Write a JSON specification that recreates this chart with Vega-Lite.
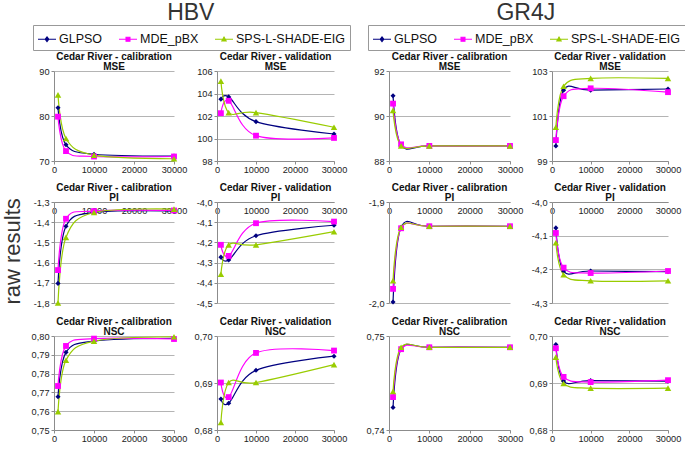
{
"$schema":"https://vega.github.io/schema/vega-lite/v6.json",
"padding":{"left":2,"top":1,"right":1,"bottom":2},
"background":"white",
"title":{"text":"raw results","orient":"left","anchor":"middle","frame":"bounds","fontSize":22,"fontWeight":"normal","font":"Liberation Sans","color":"#333","offset":6,"dx":-29},
"data":{"values":[
{"m":"HBV","p":"cal-MSE","a":"GLPSO","i":1000,"v":81.85},{"m":"HBV","p":"cal-MSE","a":"GLPSO","i":3000,"v":73.6},{"m":"HBV","p":"cal-MSE","a":"GLPSO","i":10000,"v":71.5},{"m":"HBV","p":"cal-MSE","a":"GLPSO","i":30000,"v":71.1},
{"m":"HBV","p":"cal-MSE","a":"MDE_pBX","i":1000,"v":79.85},{"m":"HBV","p":"cal-MSE","a":"MDE_pBX","i":3000,"v":72.2},{"m":"HBV","p":"cal-MSE","a":"MDE_pBX","i":10000,"v":71.0},{"m":"HBV","p":"cal-MSE","a":"MDE_pBX","i":30000,"v":71.0},
{"m":"HBV","p":"cal-MSE","a":"SPS-L-SHADE-EIG","i":1000,"v":84.7},{"m":"HBV","p":"cal-MSE","a":"SPS-L-SHADE-EIG","i":3000,"v":75.0},{"m":"HBV","p":"cal-MSE","a":"SPS-L-SHADE-EIG","i":10000,"v":71.3},{"m":"HBV","p":"cal-MSE","a":"SPS-L-SHADE-EIG","i":30000,"v":70.5},
{"m":"HBV","p":"val-MSE","a":"GLPSO","i":1000,"v":103.5},{"m":"HBV","p":"val-MSE","a":"GLPSO","i":3000,"v":103.7},{"m":"HBV","p":"val-MSE","a":"GLPSO","i":10000,"v":101.5},{"m":"HBV","p":"val-MSE","a":"GLPSO","i":30000,"v":100.4},
{"m":"HBV","p":"val-MSE","a":"MDE_pBX","i":1000,"v":102.25},{"m":"HBV","p":"val-MSE","a":"MDE_pBX","i":3000,"v":103.35},{"m":"HBV","p":"val-MSE","a":"MDE_pBX","i":10000,"v":100.25},{"m":"HBV","p":"val-MSE","a":"MDE_pBX","i":30000,"v":100.05},
{"m":"HBV","p":"val-MSE","a":"SPS-L-SHADE-EIG","i":1000,"v":105.1},{"m":"HBV","p":"val-MSE","a":"SPS-L-SHADE-EIG","i":3000,"v":102.3},{"m":"HBV","p":"val-MSE","a":"SPS-L-SHADE-EIG","i":10000,"v":102.3},{"m":"HBV","p":"val-MSE","a":"SPS-L-SHADE-EIG","i":30000,"v":101.0},
{"m":"HBV","p":"cal-PI","a":"GLPSO","i":1000,"v":-1.703},{"m":"HBV","p":"cal-PI","a":"GLPSO","i":3000,"v":-1.42},{"m":"HBV","p":"cal-PI","a":"GLPSO","i":10000,"v":-1.352},{"m":"HBV","p":"cal-PI","a":"GLPSO","i":30000,"v":-1.345},
{"m":"HBV","p":"cal-PI","a":"MDE_pBX","i":1000,"v":-1.637},{"m":"HBV","p":"cal-PI","a":"MDE_pBX","i":3000,"v":-1.383},{"m":"HBV","p":"cal-PI","a":"MDE_pBX","i":10000,"v":-1.345},{"m":"HBV","p":"cal-PI","a":"MDE_pBX","i":30000,"v":-1.342},
{"m":"HBV","p":"cal-PI","a":"SPS-L-SHADE-EIG","i":1000,"v":-1.8},{"m":"HBV","p":"cal-PI","a":"SPS-L-SHADE-EIG","i":3000,"v":-1.475},{"m":"HBV","p":"cal-PI","a":"SPS-L-SHADE-EIG","i":10000,"v":-1.352},{"m":"HBV","p":"cal-PI","a":"SPS-L-SHADE-EIG","i":30000,"v":-1.335},
{"m":"HBV","p":"val-PI","a":"GLPSO","i":1000,"v":-4.273},{"m":"HBV","p":"val-PI","a":"GLPSO","i":3000,"v":-4.287},{"m":"HBV","p":"val-PI","a":"GLPSO","i":10000,"v":-4.167},{"m":"HBV","p":"val-PI","a":"GLPSO","i":30000,"v":-4.115},
{"m":"HBV","p":"val-PI","a":"MDE_pBX","i":1000,"v":-4.212},{"m":"HBV","p":"val-PI","a":"MDE_pBX","i":3000,"v":-4.267},{"m":"HBV","p":"val-PI","a":"MDE_pBX","i":10000,"v":-4.105},{"m":"HBV","p":"val-PI","a":"MDE_pBX","i":30000,"v":-4.097},
{"m":"HBV","p":"val-PI","a":"SPS-L-SHADE-EIG","i":1000,"v":-4.358},{"m":"HBV","p":"val-PI","a":"SPS-L-SHADE-EIG","i":3000,"v":-4.212},{"m":"HBV","p":"val-PI","a":"SPS-L-SHADE-EIG","i":10000,"v":-4.212},{"m":"HBV","p":"val-PI","a":"SPS-L-SHADE-EIG","i":30000,"v":-4.147},
{"m":"HBV","p":"cal-NSC","a":"GLPSO","i":1000,"v":0.7677},{"m":"HBV","p":"cal-NSC","a":"GLPSO","i":3000,"v":0.7913},{"m":"HBV","p":"cal-NSC","a":"GLPSO","i":10000,"v":0.7973},{"m":"HBV","p":"cal-NSC","a":"GLPSO","i":30000,"v":0.7988},
{"m":"HBV","p":"cal-NSC","a":"MDE_pBX","i":1000,"v":0.7734},{"m":"HBV","p":"cal-NSC","a":"MDE_pBX","i":3000,"v":0.7947},{"m":"HBV","p":"cal-NSC","a":"MDE_pBX","i":10000,"v":0.7986},{"m":"HBV","p":"cal-NSC","a":"MDE_pBX","i":30000,"v":0.7984},
{"m":"HBV","p":"cal-NSC","a":"SPS-L-SHADE-EIG","i":1000,"v":0.7598},{"m":"HBV","p":"cal-NSC","a":"SPS-L-SHADE-EIG","i":3000,"v":0.7871},{"m":"HBV","p":"cal-NSC","a":"SPS-L-SHADE-EIG","i":10000,"v":0.7973},{"m":"HBV","p":"cal-NSC","a":"SPS-L-SHADE-EIG","i":30000,"v":0.7996},
{"m":"HBV","p":"val-NSC","a":"GLPSO","i":1000,"v":0.6866},{"m":"HBV","p":"val-NSC","a":"GLPSO","i":3000,"v":0.6857},{"m":"HBV","p":"val-NSC","a":"GLPSO","i":10000,"v":0.6927},{"m":"HBV","p":"val-NSC","a":"GLPSO","i":30000,"v":0.6957},
{"m":"HBV","p":"val-NSC","a":"MDE_pBX","i":1000,"v":0.6901},{"m":"HBV","p":"val-NSC","a":"MDE_pBX","i":3000,"v":0.687},{"m":"HBV","p":"val-NSC","a":"MDE_pBX","i":10000,"v":0.6964},{"m":"HBV","p":"val-NSC","a":"MDE_pBX","i":30000,"v":0.6969},
{"m":"HBV","p":"val-NSC","a":"SPS-L-SHADE-EIG","i":1000,"v":0.6816},{"m":"HBV","p":"val-NSC","a":"SPS-L-SHADE-EIG","i":3000,"v":0.6901},{"m":"HBV","p":"val-NSC","a":"SPS-L-SHADE-EIG","i":10000,"v":0.6901},{"m":"HBV","p":"val-NSC","a":"SPS-L-SHADE-EIG","i":30000,"v":0.6939},
{"m":"GR4J","p":"cal-MSE","a":"GLPSO","i":1000,"v":90.9},{"m":"GR4J","p":"cal-MSE","a":"GLPSO","i":3000,"v":88.7},{"m":"GR4J","p":"cal-MSE","a":"GLPSO","i":10000,"v":88.67},{"m":"GR4J","p":"cal-MSE","a":"GLPSO","i":30000,"v":88.67},
{"m":"GR4J","p":"cal-MSE","a":"MDE_pBX","i":1000,"v":90.55},{"m":"GR4J","p":"cal-MSE","a":"MDE_pBX","i":3000,"v":88.74},{"m":"GR4J","p":"cal-MSE","a":"MDE_pBX","i":10000,"v":88.67},{"m":"GR4J","p":"cal-MSE","a":"MDE_pBX","i":30000,"v":88.67},
{"m":"GR4J","p":"cal-MSE","a":"SPS-L-SHADE-EIG","i":1000,"v":90.25},{"m":"GR4J","p":"cal-MSE","a":"SPS-L-SHADE-EIG","i":3000,"v":88.67},{"m":"GR4J","p":"cal-MSE","a":"SPS-L-SHADE-EIG","i":10000,"v":88.67},{"m":"GR4J","p":"cal-MSE","a":"SPS-L-SHADE-EIG","i":30000,"v":88.67},
{"m":"GR4J","p":"val-MSE","a":"GLPSO","i":1000,"v":99.67},{"m":"GR4J","p":"val-MSE","a":"GLPSO","i":3000,"v":102.15},{"m":"GR4J","p":"val-MSE","a":"GLPSO","i":10000,"v":102.15},{"m":"GR4J","p":"val-MSE","a":"GLPSO","i":30000,"v":102.2},
{"m":"GR4J","p":"val-MSE","a":"MDE_pBX","i":1000,"v":99.93},{"m":"GR4J","p":"val-MSE","a":"MDE_pBX","i":3000,"v":101.88},{"m":"GR4J","p":"val-MSE","a":"MDE_pBX","i":10000,"v":102.23},{"m":"GR4J","p":"val-MSE","a":"MDE_pBX","i":30000,"v":102.06},
{"m":"GR4J","p":"val-MSE","a":"SPS-L-SHADE-EIG","i":1000,"v":100.5},{"m":"GR4J","p":"val-MSE","a":"SPS-L-SHADE-EIG","i":3000,"v":102.32},{"m":"GR4J","p":"val-MSE","a":"SPS-L-SHADE-EIG","i":10000,"v":102.67},{"m":"GR4J","p":"val-MSE","a":"SPS-L-SHADE-EIG","i":30000,"v":102.67},
{"m":"GR4J","p":"cal-PI","a":"GLPSO","i":1000,"v":-1.999},{"m":"GR4J","p":"cal-PI","a":"GLPSO","i":3000,"v":-1.925},{"m":"GR4J","p":"cal-PI","a":"GLPSO","i":10000,"v":-1.924},{"m":"GR4J","p":"cal-PI","a":"GLPSO","i":30000,"v":-1.924},
{"m":"GR4J","p":"cal-PI","a":"MDE_pBX","i":1000,"v":-1.986},{"m":"GR4J","p":"cal-PI","a":"MDE_pBX","i":3000,"v":-1.926},{"m":"GR4J","p":"cal-PI","a":"MDE_pBX","i":10000,"v":-1.924},{"m":"GR4J","p":"cal-PI","a":"MDE_pBX","i":30000,"v":-1.924},
{"m":"GR4J","p":"cal-PI","a":"SPS-L-SHADE-EIG","i":1000,"v":-1.978},{"m":"GR4J","p":"cal-PI","a":"SPS-L-SHADE-EIG","i":3000,"v":-1.925},{"m":"GR4J","p":"cal-PI","a":"SPS-L-SHADE-EIG","i":10000,"v":-1.924},{"m":"GR4J","p":"cal-PI","a":"SPS-L-SHADE-EIG","i":30000,"v":-1.924},
{"m":"GR4J","p":"val-PI","a":"GLPSO","i":1000,"v":-4.077},{"m":"GR4J","p":"val-PI","a":"GLPSO","i":3000,"v":-4.205},{"m":"GR4J","p":"val-PI","a":"GLPSO","i":10000,"v":-4.205},{"m":"GR4J","p":"val-PI","a":"GLPSO","i":30000,"v":-4.207},
{"m":"GR4J","p":"val-PI","a":"MDE_pBX","i":1000,"v":-4.092},{"m":"GR4J","p":"val-PI","a":"MDE_pBX","i":3000,"v":-4.195},{"m":"GR4J","p":"val-PI","a":"MDE_pBX","i":10000,"v":-4.211},{"m":"GR4J","p":"val-PI","a":"MDE_pBX","i":30000,"v":-4.205},
{"m":"GR4J","p":"val-PI","a":"SPS-L-SHADE-EIG","i":1000,"v":-4.121},{"m":"GR4J","p":"val-PI","a":"SPS-L-SHADE-EIG","i":3000,"v":-4.216},{"m":"GR4J","p":"val-PI","a":"SPS-L-SHADE-EIG","i":10000,"v":-4.234},{"m":"GR4J","p":"val-PI","a":"SPS-L-SHADE-EIG","i":30000,"v":-4.234},
{"m":"GR4J","p":"cal-NSC","a":"GLPSO","i":1000,"v":0.7424},{"m":"GR4J","p":"cal-NSC","a":"GLPSO","i":3000,"v":0.7486},{"m":"GR4J","p":"cal-NSC","a":"GLPSO","i":10000,"v":0.7488},{"m":"GR4J","p":"cal-NSC","a":"GLPSO","i":30000,"v":0.7488},
{"m":"GR4J","p":"cal-NSC","a":"MDE_pBX","i":1000,"v":0.7435},{"m":"GR4J","p":"cal-NSC","a":"MDE_pBX","i":3000,"v":0.7486},{"m":"GR4J","p":"cal-NSC","a":"MDE_pBX","i":10000,"v":0.7488},{"m":"GR4J","p":"cal-NSC","a":"MDE_pBX","i":30000,"v":0.7488},
{"m":"GR4J","p":"cal-NSC","a":"SPS-L-SHADE-EIG","i":1000,"v":0.7441},{"m":"GR4J","p":"cal-NSC","a":"SPS-L-SHADE-EIG","i":3000,"v":0.7488},{"m":"GR4J","p":"cal-NSC","a":"SPS-L-SHADE-EIG","i":10000,"v":0.7488},{"m":"GR4J","p":"cal-NSC","a":"SPS-L-SHADE-EIG","i":30000,"v":0.7488},
{"m":"GR4J","p":"val-NSC","a":"GLPSO","i":1000,"v":0.6982},{"m":"GR4J","p":"val-NSC","a":"GLPSO","i":3000,"v":0.6904},{"m":"GR4J","p":"val-NSC","a":"GLPSO","i":10000,"v":0.6905},{"m":"GR4J","p":"val-NSC","a":"GLPSO","i":30000,"v":0.6904},
{"m":"GR4J","p":"val-NSC","a":"MDE_pBX","i":1000,"v":0.6974},{"m":"GR4J","p":"val-NSC","a":"MDE_pBX","i":3000,"v":0.6913},{"m":"GR4J","p":"val-NSC","a":"MDE_pBX","i":10000,"v":0.6902},{"m":"GR4J","p":"val-NSC","a":"MDE_pBX","i":30000,"v":0.6906},
{"m":"GR4J","p":"val-NSC","a":"SPS-L-SHADE-EIG","i":1000,"v":0.6955},{"m":"GR4J","p":"val-NSC","a":"SPS-L-SHADE-EIG","i":3000,"v":0.6899},{"m":"GR4J","p":"val-NSC","a":"SPS-L-SHADE-EIG","i":10000,"v":0.6889},{"m":"GR4J","p":"val-NSC","a":"SPS-L-SHADE-EIG","i":30000,"v":0.6889}
]},
"hconcat":[
{"title":{"text":"HBV","fontSize":23,"fontWeight":"normal","color":"#333","anchor":"middle","offset":0,"frame":"bounds","lineHeight":23},
 "concat":[
  {"width":120,"height":90,"title":{"text":["Cedar River - calibration","MSE"]},"transform":[{"filter":"datum.m=='HBV' && datum.p=='cal-MSE'"}],
   "layer":[
    {"mark":{"type":"line","interpolate":"cardinal","strokeWidth":1.2},"encoding":{
      "x":{"field":"i","type":"quantitative","title":null,"scale":{"domain":[0,30000]},"axis":{"values":[0,10000,20000,30000],"format":"d"}},
      "y":{"field":"v","type":"quantitative","title":null,"scale":{"domain":[70,90],"zero":false,"nice":false},"axis":{"values":[70,80,90],"format":"d"}},
      "color":{"field":"a","type":"nominal","legend":{"title":null,"encode":{"symbols":{"update":{"shape":{"signal":"datum.value=='GLPSO'?'M-1,0H1M0,-0.26L0.2,0L0,0.26L-0.2,0Z':datum.value=='MDE_pBX'?'M-1,0H1M-0.22,-0.22H0.22V0.22H-0.22Z':'M-1,0H1M0,-0.24L0.24,0.2H-0.24Z'"},"fill":{"signal":"datum.value=='GLPSO'?'#000080':datum.value=='MDE_pBX'?'#ff00ff':'#99cc00'"},"stroke":{"signal":"datum.value=='GLPSO'?'#000080':datum.value=='MDE_pBX'?'#ff00ff':'#99cc00'"},"strokeWidth":{"value":1.1},"opacity":{"value":1}}}}}}}},
    {"mark":{"type":"point","filled":true,"opacity":1},"encoding":{"x":{"field":"i","type":"quantitative"},"y":{"field":"v","type":"quantitative"},"color":{"field":"a","type":"nominal","legend":null},"shape":{"field":"a","type":"nominal","legend":null},"size":{"field":"a","type":"ordinal","scale":{"range":[26,42,30]},"legend":null}}}
   ]},
  {"width":117,"height":90,"title":{"text":["Cedar River - validation","MSE"]},"transform":[{"filter":"datum.m=='HBV' && datum.p=='val-MSE'"}],
   "layer":[
    {"mark":{"type":"line","interpolate":"cardinal","strokeWidth":1.2},"encoding":{
      "x":{"field":"i","type":"quantitative","title":null,"scale":{"domain":[0,30000]},"axis":{"values":[0,10000,20000,30000],"format":"d"}},
      "y":{"field":"v","type":"quantitative","title":null,"scale":{"domain":[98,106],"zero":false,"nice":false},"axis":{"values":[98,100,102,104,106],"format":"d"}},
      "color":{"field":"a","type":"nominal","legend":null}}},
    {"mark":{"type":"point","filled":true,"opacity":1},"encoding":{"x":{"field":"i","type":"quantitative"},"y":{"field":"v","type":"quantitative"},"color":{"field":"a","type":"nominal","legend":null},"shape":{"field":"a","type":"nominal","legend":null},"size":{"field":"a","type":"ordinal","scale":{"range":[26,42,30]},"legend":null}}}
   ]},
  {"width":120,"height":101,"title":{"text":["Cedar River - calibration","PI"]},"transform":[{"filter":"datum.m=='HBV' && datum.p=='cal-PI'"}],
   "layer":[
    {"mark":{"type":"line","interpolate":"cardinal","strokeWidth":1.2},"encoding":{
      "x":{"field":"i","type":"quantitative","title":null,"scale":{"domain":[0,30000]},"axis":{"values":[0,10000,20000,30000],"format":"d","orient":"top","ticks":false,"tickSize":0,"labelPadding":-4,"labelBaseline":"top"}},
      "y":{"field":"v","type":"quantitative","title":null,"scale":{"domain":[-1.8,-1.3],"zero":false,"nice":false},"axis":{"values":[-1.8,-1.7,-1.6,-1.5,-1.4,-1.3],"format":".1f"}},
      "color":{"field":"a","type":"nominal","legend":null}}},
    {"mark":{"type":"point","filled":true,"opacity":1},"encoding":{"x":{"field":"i","type":"quantitative"},"y":{"field":"v","type":"quantitative"},"color":{"field":"a","type":"nominal","legend":null},"shape":{"field":"a","type":"nominal","legend":null},"size":{"field":"a","type":"ordinal","scale":{"range":[26,42,30]},"legend":null}}}
   ]},
  {"width":117,"height":101,"title":{"text":["Cedar River - validation","PI"]},"transform":[{"filter":"datum.m=='HBV' && datum.p=='val-PI'"}],
   "layer":[
    {"mark":{"type":"line","interpolate":"cardinal","strokeWidth":1.2},"encoding":{
      "x":{"field":"i","type":"quantitative","title":null,"scale":{"domain":[0,30000]},"axis":{"values":[0,10000,20000,30000],"format":"d","orient":"top","ticks":false,"tickSize":0,"labelPadding":-4,"labelBaseline":"top"}},
      "y":{"field":"v","type":"quantitative","title":null,"scale":{"domain":[-4.5,-4.0],"zero":false,"nice":false},"axis":{"values":[-4.5,-4.4,-4.3,-4.2,-4.1,-4.0],"format":".1f"}},
      "color":{"field":"a","type":"nominal","legend":null}}},
    {"mark":{"type":"point","filled":true,"opacity":1},"encoding":{"x":{"field":"i","type":"quantitative"},"y":{"field":"v","type":"quantitative"},"color":{"field":"a","type":"nominal","legend":null},"shape":{"field":"a","type":"nominal","legend":null},"size":{"field":"a","type":"ordinal","scale":{"range":[26,42,30]},"legend":null}}}
   ]},
  {"width":120,"height":94,"title":{"text":["Cedar River - calibration","NSC"]},"transform":[{"filter":"datum.m=='HBV' && datum.p=='cal-NSC'"}],
   "layer":[
    {"mark":{"type":"line","interpolate":"cardinal","strokeWidth":1.2},"encoding":{
      "x":{"field":"i","type":"quantitative","title":null,"scale":{"domain":[0,30000]},"axis":{"values":[0,10000,20000,30000],"format":"d"}},
      "y":{"field":"v","type":"quantitative","title":null,"scale":{"domain":[0.75,0.8],"zero":false,"nice":false},"axis":{"values":[0.75,0.76,0.77,0.78,0.79,0.8],"format":".2f"}},
      "color":{"field":"a","type":"nominal","legend":null}}},
    {"mark":{"type":"point","filled":true,"opacity":1},"encoding":{"x":{"field":"i","type":"quantitative"},"y":{"field":"v","type":"quantitative"},"color":{"field":"a","type":"nominal","legend":null},"shape":{"field":"a","type":"nominal","legend":null},"size":{"field":"a","type":"ordinal","scale":{"range":[26,42,30]},"legend":null}}}
   ]},
  {"width":117,"height":94,"title":{"text":["Cedar River - validation","NSC"]},"transform":[{"filter":"datum.m=='HBV' && datum.p=='val-NSC'"}],
   "layer":[
    {"mark":{"type":"line","interpolate":"cardinal","strokeWidth":1.2},"encoding":{
      "x":{"field":"i","type":"quantitative","title":null,"scale":{"domain":[0,30000]},"axis":{"values":[0,10000,20000,30000],"format":"d"}},
      "y":{"field":"v","type":"quantitative","title":null,"scale":{"domain":[0.68,0.7],"zero":false,"nice":false},"axis":{"values":[0.68,0.69,0.7],"format":".2f"}},
      "color":{"field":"a","type":"nominal","legend":null}}},
    {"mark":{"type":"point","filled":true,"opacity":1},"encoding":{"x":{"field":"i","type":"quantitative"},"y":{"field":"v","type":"quantitative"},"color":{"field":"a","type":"nominal","legend":null},"shape":{"field":"a","type":"nominal","legend":null},"size":{"field":"a","type":"ordinal","scale":{"range":[26,42,30]},"legend":null}}}
   ]}
 ],
 "columns":2,"align":"each","spacing":{"row":8,"column":7}
},
{"title":{"text":"GR4J","fontSize":23,"fontWeight":"normal","color":"#333","anchor":"middle","offset":0,"frame":"bounds","lineHeight":23},
 "concat":[
  {"width":121,"height":90,"title":{"text":["Cedar River - calibration","MSE"]},"transform":[{"filter":"datum.m=='GR4J' && datum.p=='cal-MSE'"}],
   "layer":[
    {"mark":{"type":"line","interpolate":"cardinal","strokeWidth":1.2},"encoding":{
      "x":{"field":"i","type":"quantitative","title":null,"scale":{"domain":[0,30000]},"axis":{"values":[0,10000,20000,30000],"format":"d"}},
      "y":{"field":"v","type":"quantitative","title":null,"scale":{"domain":[88,92],"zero":false,"nice":false},"axis":{"values":[88,90,92],"format":"d"}},
      "color":{"field":"a","type":"nominal","legend":{"title":null,"encode":{"symbols":{"update":{"shape":{"signal":"datum.value=='GLPSO'?'M-1,0H1M0,-0.26L0.2,0L0,0.26L-0.2,0Z':datum.value=='MDE_pBX'?'M-1,0H1M-0.22,-0.22H0.22V0.22H-0.22Z':'M-1,0H1M0,-0.24L0.24,0.2H-0.24Z'"},"fill":{"signal":"datum.value=='GLPSO'?'#000080':datum.value=='MDE_pBX'?'#ff00ff':'#99cc00'"},"stroke":{"signal":"datum.value=='GLPSO'?'#000080':datum.value=='MDE_pBX'?'#ff00ff':'#99cc00'"},"strokeWidth":{"value":1.1},"opacity":{"value":1}}}}}}}},
    {"mark":{"type":"point","filled":true,"opacity":1},"encoding":{"x":{"field":"i","type":"quantitative"},"y":{"field":"v","type":"quantitative"},"color":{"field":"a","type":"nominal","legend":null},"shape":{"field":"a","type":"nominal","legend":null},"size":{"field":"a","type":"ordinal","scale":{"range":[26,42,30]},"legend":null}}}
   ]},
  {"width":116,"height":90,"title":{"text":["Cedar River - validation","MSE"]},"transform":[{"filter":"datum.m=='GR4J' && datum.p=='val-MSE'"}],
   "layer":[
    {"mark":{"type":"line","interpolate":"cardinal","strokeWidth":1.2},"encoding":{
      "x":{"field":"i","type":"quantitative","title":null,"scale":{"domain":[0,30000]},"axis":{"values":[0,10000,20000,30000],"format":"d"}},
      "y":{"field":"v","type":"quantitative","title":null,"scale":{"domain":[99,103],"zero":false,"nice":false},"axis":{"values":[99,101,103],"format":"d"}},
      "color":{"field":"a","type":"nominal","legend":null}}},
    {"mark":{"type":"point","filled":true,"opacity":1},"encoding":{"x":{"field":"i","type":"quantitative"},"y":{"field":"v","type":"quantitative"},"color":{"field":"a","type":"nominal","legend":null},"shape":{"field":"a","type":"nominal","legend":null},"size":{"field":"a","type":"ordinal","scale":{"range":[26,42,30]},"legend":null}}}
   ]},
  {"width":121,"height":101,"title":{"text":["Cedar River - calibration","PI"]},"transform":[{"filter":"datum.m=='GR4J' && datum.p=='cal-PI'"}],
   "layer":[
    {"mark":{"type":"line","interpolate":"cardinal","strokeWidth":1.2},"encoding":{
      "x":{"field":"i","type":"quantitative","title":null,"scale":{"domain":[0,30000]},"axis":{"values":[0,10000,20000,30000],"format":"d","orient":"top","ticks":false,"tickSize":0,"labelPadding":-4,"labelBaseline":"top"}},
      "y":{"field":"v","type":"quantitative","title":null,"scale":{"domain":[-2.0,-1.9],"zero":false,"nice":false},"axis":{"values":[-2.0,-1.9],"format":".1f"}},
      "color":{"field":"a","type":"nominal","legend":null}}},
    {"mark":{"type":"point","filled":true,"opacity":1},"encoding":{"x":{"field":"i","type":"quantitative"},"y":{"field":"v","type":"quantitative"},"color":{"field":"a","type":"nominal","legend":null},"shape":{"field":"a","type":"nominal","legend":null},"size":{"field":"a","type":"ordinal","scale":{"range":[26,42,30]},"legend":null}}}
   ]},
  {"width":116,"height":101,"title":{"text":["Cedar River - validation","PI"]},"transform":[{"filter":"datum.m=='GR4J' && datum.p=='val-PI'"}],
   "layer":[
    {"mark":{"type":"line","interpolate":"cardinal","strokeWidth":1.2},"encoding":{
      "x":{"field":"i","type":"quantitative","title":null,"scale":{"domain":[0,30000]},"axis":{"values":[0,10000,20000,30000],"format":"d","orient":"top","ticks":false,"tickSize":0,"labelPadding":-4,"labelBaseline":"top"}},
      "y":{"field":"v","type":"quantitative","title":null,"scale":{"domain":[-4.3,-4.0],"zero":false,"nice":false},"axis":{"values":[-4.3,-4.2,-4.1,-4.0],"format":".1f"}},
      "color":{"field":"a","type":"nominal","legend":null}}},
    {"mark":{"type":"point","filled":true,"opacity":1},"encoding":{"x":{"field":"i","type":"quantitative"},"y":{"field":"v","type":"quantitative"},"color":{"field":"a","type":"nominal","legend":null},"shape":{"field":"a","type":"nominal","legend":null},"size":{"field":"a","type":"ordinal","scale":{"range":[26,42,30]},"legend":null}}}
   ]},
  {"width":121,"height":94,"title":{"text":["Cedar River - calibration","NSC"]},"transform":[{"filter":"datum.m=='GR4J' && datum.p=='cal-NSC'"}],
   "layer":[
    {"mark":{"type":"line","interpolate":"cardinal","strokeWidth":1.2},"encoding":{
      "x":{"field":"i","type":"quantitative","title":null,"scale":{"domain":[0,30000]},"axis":{"values":[0,10000,20000,30000],"format":"d"}},
      "y":{"field":"v","type":"quantitative","title":null,"scale":{"domain":[0.74,0.75],"zero":false,"nice":false},"axis":{"values":[0.74,0.75],"format":".2f"}},
      "color":{"field":"a","type":"nominal","legend":null}}},
    {"mark":{"type":"point","filled":true,"opacity":1},"encoding":{"x":{"field":"i","type":"quantitative"},"y":{"field":"v","type":"quantitative"},"color":{"field":"a","type":"nominal","legend":null},"shape":{"field":"a","type":"nominal","legend":null},"size":{"field":"a","type":"ordinal","scale":{"range":[26,42,30]},"legend":null}}}
   ]},
  {"width":116,"height":94,"title":{"text":["Cedar River - validation","NSC"]},"transform":[{"filter":"datum.m=='GR4J' && datum.p=='val-NSC'"}],
   "layer":[
    {"mark":{"type":"line","interpolate":"cardinal","strokeWidth":1.2},"encoding":{
      "x":{"field":"i","type":"quantitative","title":null,"scale":{"domain":[0,30000]},"axis":{"values":[0,10000,20000,30000],"format":"d"}},
      "y":{"field":"v","type":"quantitative","title":null,"scale":{"domain":[0.68,0.7],"zero":false,"nice":false},"axis":{"values":[0.68,0.69,0.7],"format":".2f"}},
      "color":{"field":"a","type":"nominal","legend":null}}},
    {"mark":{"type":"point","filled":true,"opacity":1},"encoding":{"x":{"field":"i","type":"quantitative"},"y":{"field":"v","type":"quantitative"},"color":{"field":"a","type":"nominal","legend":null},"shape":{"field":"a","type":"nominal","legend":null},"size":{"field":"a","type":"ordinal","scale":{"range":[26,42,30]},"legend":null}}}
   ]}
 ],
 "columns":2,"align":"each","spacing":{"row":8,"column":6}
}
],
"spacing":15,
"resolve":{"scale":{"color":"independent","shape":"independent","size":"independent"},"legend":{"color":"independent"}},
"config":{
 "font":"Liberation Sans",
 "view":{"stroke":null},
 "range":{"category":["#000080","#ff00ff","#99cc00"],"symbol":["diamond","square","triangle-up"]},
 "title":{"font":"Liberation Sans","fontSize":10,"fontWeight":"bold","lineHeight":10,"offset":-5,"anchor":"middle","frame":"group","color":"#111"},
 "axis":{"labelFont":"Liberation Sans","labelFontSize":9.2,"labelColor":"#222","domainColor":"#8c8c8c","tickColor":"#8c8c8c","gridColor":"#b4b4b4","gridWidth":1,"tickCount":12},
 "axisX":{"grid":false,"labelFlush":false,"tickSize":3,"labelPadding":1,"labelOverlap":false,"tickCount":12},
 "axisY":{"grid":true,"tickSize":3,"labelPadding":2,"labelOverlap":false,"tickCount":12,"labelExpr":"replace(replace(datum.label,'.',','),'\u2212','-')"},
 "legend":{"orient":"none","legendX":-21,"legendY":-46,"direction":"horizontal","strokeColor":"#999","padding":4,"columnPadding":13,"symbolSize":324,"labelFont":"Liberation Sans","labelFontSize":12.5,"labelColor":"#111","labelOffset":2,"symbolStrokeWidth":1.1}
}
}
